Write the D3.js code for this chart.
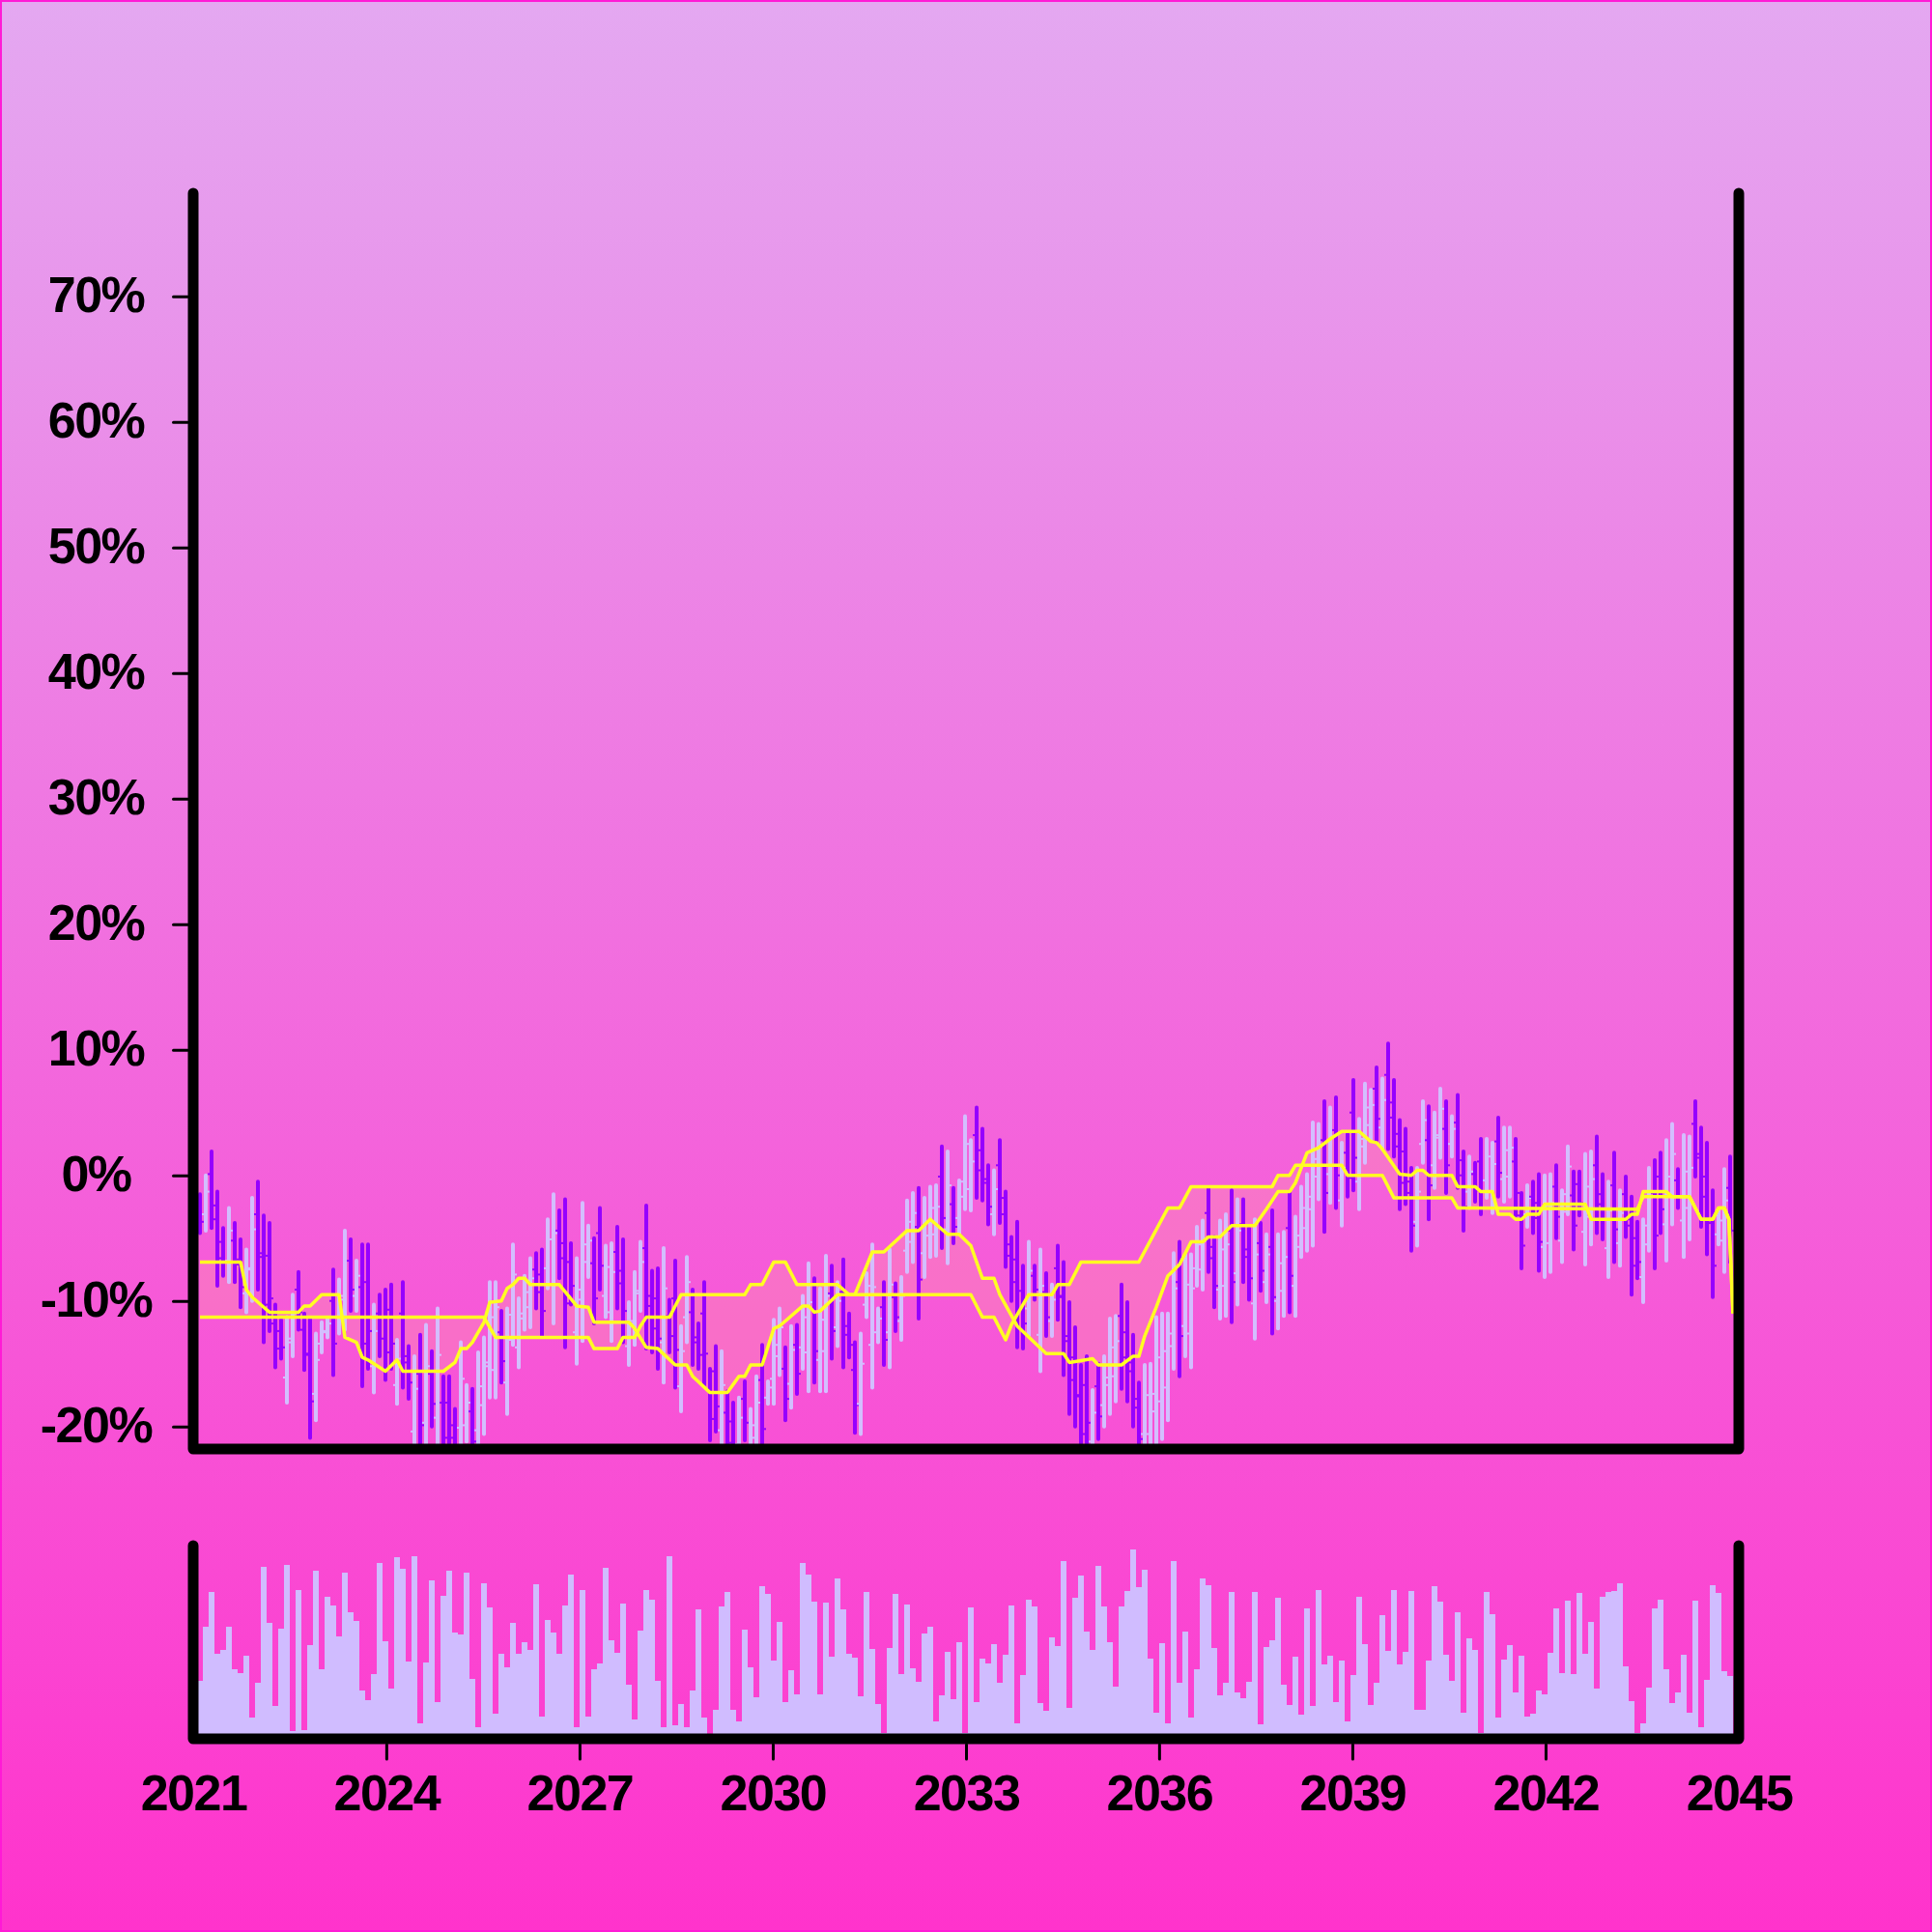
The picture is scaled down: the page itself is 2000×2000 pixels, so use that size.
<!DOCTYPE html>
<html><head><meta charset="utf-8">
<script src="https://cdn.jsdelivr.net/npm/d3@7"></script>
<style>html,body{margin:0;padding:0;background:#ff33cc}svg{display:block}</style>
</head><body>
<svg id="chart" width="2000" height="2000"></svg>
<script>
// ---------- data ----------
const tickYears = [2021,2024,2027,2030,2033,2036,2039,2042,2045];
const yTicks = [-20,-10,0,10,20,30,40,50,60,70];

const high = [
-1.5,0.0,1.9,-1.3,-4.2,-2.6,-3.8,-5.1,-5.9,-1.8,
-0.5,-3.2,-3.8,-10.3,-11.5,-11.3,-9.5,-7.7,-11.0,-11.4,
-12.6,-11.7,-11.4,-7.5,-8.3,-4.4,-5.1,-6.8,-5.5,-5.5,
-10.3,-9.5,-9.1,-8.7,-13.1,-8.5,-13.6,-14.4,-12.7,-11.9,
-14.0,-10.6,-16.0,-16.0,-18.6,-13.3,-16.7,-17.0,-14.1,-12.9,
-8.5,-8.5,-10.8,-10.6,-5.5,-9.8,-8.0,-6.6,-6.2,-5.9,
-3.5,-1.5,-2.8,-1.9,-5.4,-6.6,-2.2,-4.0,-5.0,-2.6,
-5.6,-5.4,-4.1,-5.1,-10.1,-7.7,-5.3,-2.4,-7.6,-7.4,
-5.8,-9.9,-6.8,-12.0,-6.5,-9.1,-11.8,-8.5,-15.4,-13.6,
-14.0,-17.2,-18.1,-17.7,-16.4,-18.6,-16.0,-13.5,-16.4,-11.5,
-10.6,-13.7,-12.0,-11.9,-9.6,-7.0,-8.2,-9.0,-6.4,-7.2,
-8.5,-6.7,-11.0,-13.3,-12.6,-7.8,-5.5,-10.6,-8.5,-5.9,
-8.6,-8.1,-2.0,-1.4,-1.0,-1.8,-0.9,-0.8,2.3,1.9,
-1.0,-0.4,4.7,2.8,5.4,3.7,0.8,0.4,2.8,-1.3,
-4.9,-3.7,-7.2,-5.3,-7.2,-5.9,-7.8,-8.7,-5.6,-6.9,
-10.1,-12.1,-15.1,-14.4,-17.1,-15.0,-14.4,-11.4,-11.2,-8.7,
-10.1,-12.7,-16.5,-15.1,-15.0,-11.3,-11.0,-11.0,-6.2,-5.3,
-6.3,-6.3,-4.1,-3.6,-1.0,-4.9,-3.6,-3.1,-1.2,-1.9,
-1.9,-4.2,-3.5,-3.8,-4.7,-2.8,-4.7,-4.5,-1.3,-3.3,
-0.9,0.1,4.2,4.1,5.9,5.4,6.2,2.6,3.3,7.6,
4.5,7.3,6.8,8.6,7.7,10.5,7.6,4.4,3.7,0.6,
0.6,5.9,5.5,5.0,6.9,5.9,4.7,6.4,1.9,1.5,
1.0,2.9,2.9,2.6,4.6,3.8,3.8,2.9,-1.4,-0.8,
-0.5,0.1,0.0,0.1,0.8,-1.2,2.3,0.3,0.3,1.7,
1.9,3.1,0.1,-0.5,1.8,-1.2,-0.1,-1.7,-3.7,-3.5,
0.6,1.2,1.8,2.8,4.1,0.5,3.2,3.1,5.9,3.8,
2.6,-1.2,-2.8,0.5,1.5];

const low = [
-4.6,-4.4,-4.2,-8.8,-8.0,-8.5,-8.5,-10.5,-10.9,-10.0,
-9.1,-13.3,-12.4,-15.3,-14.6,-18.1,-14.4,-12.3,-15.5,-20.9,
-19.5,-14.1,-12.9,-15.9,-12.6,-12.3,-10.8,-10.8,-16.8,-15.4,
-17.3,-14.4,-16.3,-15.4,-18.2,-16.9,-17.8,-23,-23,-23,
-20.0,-23,-23,-23,-23,-23,-21.2,-23,-23,-20.6,
-17.7,-17.7,-16.5,-19.0,-13.5,-15.3,-12.3,-12.1,-10.6,-12.8,
-9.0,-11.8,-8.2,-13.7,-10.3,-15.0,-13.2,-8.1,-11.8,-9.1,
-11.3,-13.2,-10.6,-13.3,-15.1,-13.5,-10.8,-13.8,-14.1,-15.4,
-16.5,-14.1,-16.9,-18.8,-13.3,-15.1,-15.4,-16.7,-21.1,-20.4,
-23,-23,-23,-23,-21.1,-23,-23,-23,-18.2,-18.2,
-15.9,-19.5,-18.5,-17.4,-15.4,-17.2,-16.5,-17.2,-17.2,-14.6,
-13.6,-15.3,-14.5,-20.5,-20.6,-11.3,-16.9,-13.3,-15.1,-15.3,
-12.4,-13.1,-7.7,-6.9,-11.4,-8.1,-6.5,-6.4,-5.8,-7.0,
-5.4,-4.7,-2.7,-2.8,-1.8,-2.0,-3.9,-4.7,-3.8,-7.3,
-10.0,-13.7,-13.8,-12.8,-9.9,-15.6,-12.8,-12.8,-11.5,-15.9,
-19,-20,-23,-22,-23,-21,-20,-19,-18,-17,
-18,-20,-23,-23,-23,-22,-21,-19.5,-15.4,-16.0,
-14.4,-15.3,-8.8,-9.1,-7.7,-10.5,-11.4,-11.2,-11.7,-10.3,
-8.5,-9.9,-13.0,-9.2,-10.1,-12.6,-12.2,-11.2,-10.9,-11.2,
-6.5,-6.0,-5.6,-1.9,-4.5,-2.2,-2.6,-4.0,-1.7,-1.2,
-2.7,1.0,2.8,2.8,2.1,2.1,1.5,-2.7,-2.3,-6.0,
-5.6,1.0,-3.5,-1.0,1.4,-1.4,1.5,-1.0,-4.4,-2.6,
-2.1,-3.1,-1.8,-3.0,-1.7,-2.1,-1.7,-3.2,-7.4,-4.1,
-4.6,-7.6,-8.1,-7.7,-5.0,-6.9,-3.1,-5.9,-3.2,-7.1,
-5.5,-4.6,-5.1,-8.1,-6.9,-7.2,-4.9,-9.5,-8.2,-10.1,
-6.0,-7.4,-4.6,-6.8,-3.9,-2.6,-6.5,-5.1,-0.1,-4.1,
-6.3,-9.7,-5.5,-7.7,-6.9];

const open = [
-2.4,-3.1,0.1,-3.5,-5.3,-6.8,-5.2,-6.7,-9.4,-7.5,
-3.1,-6.2,-6.4,-11.8,-12.4,-16.1,-13.0,-9.1,-12.3,-14.3,
-17.4,-13.4,-12.5,-10.0,-11.3,-9.9,-6.8,-9.6,-8.9,-8.5,
-15.2,-11.0,-11.3,-10.7,-16.7,-11.0,-14.9,-20.4,-15.8,-19.7,
-15.8,-19.3,-18.1,-18.1,-19.9,-20.1,-19.9,-18.8,-20.3,-18.3,
-14.9,-15.5,-12.5,-16.5,-11.1,-13.7,-11.0,-10.5,-7.5,-7.9,
-7.4,-8.7,-4.4,-5.4,-6.9,-12.5,-9.9,-6.9,-7.0,-4.6,
-9.6,-10.9,-6.1,-7.6,-13.6,-11.8,-9.2,-5.8,-9.6,-9.8,
-13.3,-11.2,-9.8,-16.8,-11.3,-10.9,-12.9,-11.0,-17.1,-15.6,
-20.3,-18.9,-19.6,-21.4,-17.8,-21.7,-20.9,-16.3,-17.7,-16.2,
-14.4,-15.4,-16.6,-13.5,-13.7,-14.1,-10.7,-14.7,-14.0,-9.4,
-12.1,-9.3,-12.0,-15.5,-18.2,-10.3,-13.5,-12.5,-10.5,-12.5,
-9.7,-11.6,-6.0,-5.3,-4.1,-6.2,-4.8,-4.7,-0.1,-4.3,
-2.3,-3.4,-0.5,-1.1,3.2,2.0,-0.6,-3.1,0.8,-3.1,
-6.4,-6.7,-9.2,-10.6,-8.0,-12.7,-9.3,-11.6,-7.4,-9.6,
-12.8,-14.5,-17.5,-16.7,-21.2,-16.8,-18.3,-16.7,-16.0,-11.2,
-12.5,-14.9,-18.5,-20.6,-20.6,-18.8,-18.0,-16.9,-12.6,-8.5,
-12.0,-12.6,-7.4,-7.5,-3.0,-6.6,-9.1,-8.8,-4.4,-7.8,
-3.9,-5.9,-10.2,-5.4,-8.5,-5.7,-10.0,-9.2,-4.2,-8.8,
-4.8,-4.2,-2.7,-0.1,2.8,0.1,3.6,-2.0,1.8,5.0,
-0.5,2.9,4.0,6.9,3.8,8.0,5.8,2.3,1.9,-1.4,
-3.7,2.5,2.8,0.8,3.0,3.7,2.5,4.2,0.0,-1.3,
0.1,1.1,-0.4,-1.3,2.7,-0.3,-0.1,1.1,-3.2,-3.1,
-1.7,-2.2,-5.7,-5.4,-0.9,-5.2,-1.5,-1.6,-0.7,-4.5,
-3.3,0.8,-1.5,-5.8,-0.8,-5.4,-1.5,-4.0,-5.0,-8.1,
-4.0,-1.4,-0.1,-3.9,-1.5,-0.4,-3.6,-2.6,4.1,1.4,
-0.1,-3.8,-4.7,-5.2,-1.0];

const close = [
-3.7,-1.3,-2.4,-6.6,-6.9,-4.4,-7.1,-8.9,-7.4,-4.3,
-6.5,-10.3,-9.8,-13.8,-13.7,-13.3,-11.0,-10.9,-14.2,-18.0,
-14.7,-12.4,-11.8,-13.4,-9.6,-6.8,-9.1,-8.0,-13.4,-12.4,
-12.4,-13.0,-14.1,-13.4,-14.6,-14.4,-16.5,-17.0,-19.9,-15.2,
-18.2,-14.3,-20.9,-20.9,-21.7,-16.2,-18.1,-21.2,-16.8,-15.2,
-11.3,-10.5,-14.8,-13.1,-7.9,-11.4,-9.3,-8.2,-9.3,-10.8,
-5.1,-4.6,-6.6,-10.2,-8.8,-9.1,-5.5,-5.2,-9.8,-7.2,
-7.3,-7.7,-8.6,-10.8,-11.6,-9.4,-6.9,-10.4,-12.2,-13.0,
-9.0,-12.8,-13.9,-14.0,-8.5,-13.3,-14.3,-14.2,-19.4,-18.4,
-16.7,-21.3,-21.5,-19.3,-19.7,-19.9,-18.1,-20.2,-16.9,-13.5,
-12.1,-17.8,-13.9,-15.8,-11.3,-10.1,-14.0,-11.5,-9.6,-12.4,
-10.0,-12.7,-13.5,-18.3,-15.0,-8.8,-8.9,-11.4,-13.1,-8.7,
-11.3,-9.6,-3.7,-3.0,-8.3,-3.7,-2.6,-2.5,-3.4,-0.8,
-4.1,-1.7,2.5,1.1,0.4,-0.3,-2.5,-1.1,-1.8,-5.5,
-8.5,-10.7,-11.8,-7.6,-9.1,-8.8,-11.3,-9.9,-9.7,-13.2,
-16.3,-17.6,-20.6,-19.7,-18.9,-19.2,-16.1,-13.7,-13.2,-14.5,
-15.6,-17.8,-21.0,-17.5,-17.4,-14.5,-14.0,-13.6,-9.0,-12.8,
-8.7,-9.0,-5.5,-5.2,-5.7,-8.8,-5.9,-5.5,-8.5,-4.4,
-6.5,-8.2,-6.3,-7.6,-6.3,-9.7,-7.0,-6.5,-8.0,-5.7,
-2.6,-1.7,1.3,2.3,-1.4,3.1,0.0,0.6,-0.2,1.4,
2.3,5.4,5.6,4.5,6.0,4.6,3.3,-0.6,-0.5,-4.0,
-1.3,4.4,-0.8,3.2,5.3,0.8,3.7,1.2,-2.5,0.3,
-1.2,-1.3,1.5,0.9,0.2,2.0,2.2,-1.4,-5.6,-1.8,
-3.4,-5.3,-2.4,-2.2,-3.3,-2.9,0.7,-4.0,-2.2,-0.9,
-0.3,-2.3,-3.5,-2.8,-4.3,-3.0,-3.5,-7.2,-6.9,-5.5,
-1.4,-4.8,-2.7,-0.1,1.7,-1.7,0.3,0.6,1.7,-1.7,
-3.6,-7.2,-3.6,-2.0,-4.4];

const volume = [
30,58,76,44,46,58,36,34,43,11,
29,89,60,17,57,90,4,77,4.5,48.5,
87,36,73.5,69,53,86,65.5,61,25,20,
33.5,91,50.5,26,94,88,40,94.5,8,39.5,
82,19,74,87,55,54,86,31,6,80.5,
68,13,44,37,60,44,50,46,80,11.5,
61.5,55,44,69,85,6,77,11.5,36,39,
88.5,51,44.5,70,28,10,56,77,72,30,
6,94.5,7,18,6,25,67,11,0,15,
68.5,76,15,9,56.5,37,21.3,78.8,75,40.5,
60.3,19,35.5,23,90.8,85,70.8,23,70.5,42.5,
83,67,44,42.2,22.2,75.8,46.5,18,3,47,
75,33.3,69.3,36.7,29.3,54.5,58.2,9,22.3,45,
20.5,49.8,3,67.8,18.8,41.3,39,48.8,29.2,43.3,
69,8,32.8,72.2,68.5,18.7,14.5,52.5,48,92,
16,72.8,84.3,55.5,45.8,89.5,68.5,49.8,27.2,68.5,
76.5,98,78.7,87.5,41.5,13.3,49.3,7.8,92,28.8,
55.3,11,36.2,82.8,79.3,47,22.7,28.8,75.8,23.8,
21.2,29.5,75.8,7.7,47.5,50.8,72.8,27.8,17.3,42.5,
12.3,67.3,17,77,38.5,42.8,18.8,40.5,9,33.2,
73.3,49,17.5,28.8,64,45.3,77.2,38.3,45,76.5,
15,15,40.7,78.8,71,43.7,30.2,65.3,13.7,52.2,
46,3,75.8,64.5,11,41,48.3,24.2,43,11.3,
12.8,25,22.8,44.3,67.7,34,71.5,33.7,75.3,44.2,
60.7,26.2,73.5,75.8,76.5,80.7,37.3,19.7,3,8,
26.3,67.7,71.8,36.2,18.5,23.8,43.3,13.7,71.5,6,
30.7,79.7,75.3,34.8,32.3];

// two yellow indicator lines: [bar index, value %] at their vertices
const lineA = [[0,-6.9],[7,-6.9],[8,-9.1],[9,-9.7],[11,-10.5],[12,-10.9],[17,-10.9],[18,-10.4],[19,-10.4],[21,-9.5],[24,-9.5],[25,-12.9],[27,-13.3],[28,-14.5],[29,-14.7],[32,-15.6],[34,-14.7],[35,-15.6],[42,-15.6],[44,-14.9],[45,-13.8],[46,-13.8],[47,-13.3],[49,-11.7],[50,-10.1],[52,-10.0],[53,-9.0],[54,-8.7],[55,-8.2],[56,-8.2],[57,-8.7],[62,-8.7],[65,-10.4],[67,-10.5],[68,-11.7],[74,-11.7],[75,-12.2],[77,-13.7],[79,-13.8],[82,-15.1],[84,-15.1],[85,-16.0],[88,-17.3],[91,-17.3],[93,-16.0],[94,-16.0],[95,-15.1],[97,-15.1],[99,-12.2],[100,-12.0],[104,-10.4],[105,-10.4],[106,-10.9],[107,-10.8],[110,-9.5],[113,-9.5],[116,-6.1],[118,-6.1],[122,-4.4],[124,-4.4],[126,-3.5],[129,-4.7],[131,-4.7],[133,-5.6],[135,-8.2],[137,-8.2],[138,-9.5],[141,-12.0],[146,-14.2],[149,-14.2],[150,-14.9],[154,-14.6],[155,-15.1],[159,-15.1],[161,-14.4],[162,-14.4],[163,-12.8],[165,-10.5],[167,-8.0],[169,-7.1],[171,-5.3],[173,-5.3],[174,-4.9],[176,-4.9],[178,-4.0],[182,-4.0],[184,-2.7],[186,-1.3],[188,-1.3],[189,-0.6],[191,1.8],[193,2.2],[195,2.9],[197,3.5],[200,3.5],[202,2.7],[203,2.6],[204,2.1],[207,0.1],[209,0.0],[210,0.4],[211,0.4],[212,0.0],[216,0.0],[217,-0.9],[220,-0.9],[221,-1.3],[223,-1.3],[224,-3.1],[226,-3.1],[227,-3.5],[228,-3.5],[229,-3.1],[231,-3.1],[232,-2.3],[239,-2.3],[240,-3.5],[246,-3.5],[247,-3.1],[248,-3.1],[249,-1.3],[253,-1.3],[254,-1.7],[257,-1.7],[259,-3.5],[261,-3.5],[262,-2.6],[263,-2.6],[263.8,-3.5],[264.5,-11]];

const lineB = [[0,-11.3],[49,-11.3],[51,-12.9],[67,-12.9],[68,-13.8],[72,-13.8],[73,-12.9],[75,-12.9],[76,-12.0],[77,-11.3],[81,-11.3],[83,-9.5],[94,-9.5],[95,-8.7],[97,-8.7],[99,-6.9],[101,-6.9],[103,-8.7],[110,-8.7],[112,-9.5],[133,-9.5],[135,-11.3],[137,-11.3],[139,-13.1],[140,-11.9],[143,-9.5],[147,-9.5],[148,-8.7],[150,-8.7],[152,-6.9],[162,-6.9],[167,-2.6],[169,-2.6],[171,-0.9],[185,-0.9],[186,0.0],[188,0.0],[189,0.8],[197,0.8],[198,0.0],[204,0.0],[206,-1.8],[216,-1.8],[217,-2.6],[248,-2.7],[249,-1.7],[257,-1.7],[259,-3.5],[261,-3.5],[262,-2.6],[263,-2.6],[263.8,-3.5],[264.5,-11]];

// ---------- drawing ----------
const N = high.length;
const FONT = "'Liberation Sans', Arial, Helvetica, sans-serif";
const PURPLE = "#9600ff", LAVENDER = "#d3beff", VOLCOL = "#d0bcff", YELLOW = "#ffff22";

const svg = d3.select("#chart");
const defs = svg.append("defs");
const grad = defs.append("linearGradient").attr("id","bg").attr("x1",0).attr("y1",0).attr("x2",0).attr("y2",1);
grad.append("stop").attr("offset","0%").attr("stop-color","#e4a8f1");
grad.append("stop").attr("offset","100%").attr("stop-color","#ff33cc");
defs.append("clipPath").attr("id","clipMain").append("rect").attr("x",200).attr("y",0).attr("width",1600).attr("height",1500);
defs.append("clipPath").attr("id","clipVol").append("rect").attr("x",200).attr("y",1590).attr("width",1600).attr("height",210);

svg.append("rect").attr("width",2000).attr("height",2000).attr("fill","url(#bg)");
svg.append("rect").attr("x",1).attr("y",1).attr("width",1998).attr("height",1998)
  .attr("fill","none").attr("stroke","#ff1ad6").attr("stroke-width",2);

const x = d3.scaleBand().domain(d3.range(N)).range([204,1794]).padding(0);
const xi = d3.scaleLinear().domain([-0.5, N-0.5]).range([204,1794]);
const y = d3.scaleLinear().domain([-20,70]).range([1476.7,306.7]);
const yv = d3.scaleLinear().domain([0,100]).range([1800,1600]);
const xt = d3.scaleTime().domain([new Date(2021,0,1), new Date(2045,0,1)]).range([200,1800]);
const cx = i => x(i) + x.bandwidth()/2;

// main panel
const gMain = svg.append("g").attr("clip-path","url(#clipMain)");
const ptsA = lineA.map(d => [xi(d[0]), y(d[1])]);
const ptsB = lineB.map(d => [xi(d[0]), y(d[1])]);
gMain.append("path")
  .attr("d", d3.line()(ptsA.concat(ptsB.slice().reverse())) + "Z")
  .attr("fill","#ffa0a8").attr("fill-opacity",0.32).attr("stroke","none");

const colorOf = i => close[i] >= open[i] ? LAVENDER : PURPLE;
const bars = gMain.append("g").selectAll("g").data(d3.range(N)).join("g");
bars.append("line")
  .attr("x1", cx).attr("x2", cx)
  .attr("y1", i => y(high[i])).attr("y2", i => y(low[i]))
  .attr("stroke", colorOf).attr("stroke-width",4).attr("stroke-linecap","round");
bars.append("line")
  .attr("x1", i => cx(i)-4).attr("x2", cx)
  .attr("y1", i => y(open[i])).attr("y2", i => y(open[i]))
  .attr("stroke", colorOf).attr("stroke-width",2);
bars.append("line")
  .attr("x1", cx).attr("x2", i => cx(i)+4)
  .attr("y1", i => y(close[i])).attr("y2", i => y(close[i]))
  .attr("stroke", colorOf).attr("stroke-width",2);

const lineGen = d3.line().x(d => xi(d[0])).y(d => y(d[1]));
[lineA, lineB].forEach(L => {
  gMain.append("path").attr("d", lineGen(L)).attr("fill","none")
    .attr("stroke",YELLOW).attr("stroke-width",3.5).attr("stroke-linejoin","round");
});

// volume panel
svg.append("g").attr("clip-path","url(#clipVol)")
  .selectAll("rect").data(d3.range(N)).join("rect")
  .attr("x", i => x(i)).attr("width", x.bandwidth())
  .attr("y", i => yv(volume[i])).attr("height", i => yv(0) - yv(volume[i]))
  .attr("fill", VOLCOL).attr("shape-rendering","crispEdges");

// frames
svg.append("path").attr("d","M200,200V1500H1800V200").attr("fill","none")
  .attr("stroke","#000").attr("stroke-width",11).attr("stroke-linecap","round").attr("stroke-linejoin","round");
svg.append("path").attr("d","M200,1600V1800H1800V1600").attr("fill","none")
  .attr("stroke","#000").attr("stroke-width",11).attr("stroke-linecap","round").attr("stroke-linejoin","round");

// y axis
const gy = svg.append("g").attr("transform","translate(194.5,0)")
  .call(d3.axisLeft(y).tickValues(yTicks).tickSize(15).tickPadding(0).tickFormat(d => d + "%"));
gy.attr("font-size",null).attr("font-family",null);
gy.select(".domain").remove();
gy.selectAll(".tick line").attr("stroke","#000").attr("stroke-width",3).attr("stroke-linecap","round");
gy.selectAll(".tick text").attr("x",-95).attr("dy",null).attr("y",16)
  .attr("text-anchor","middle").attr("fill","#000")
  .style("font-family",FONT).style("font-weight","700").style("font-size","52px").style("letter-spacing","-1.5px");

// x axis
const gx = svg.append("g").attr("transform","translate(0,1806)")
  .call(d3.axisBottom(xt).tickValues(tickYears.map(yr => new Date(yr,0,1))).tickSize(15).tickFormat(d3.timeFormat("%Y")));
gx.attr("font-size",null).attr("font-family",null);
gx.select(".domain").remove();
gx.selectAll(".tick line").attr("stroke","#000").attr("stroke-width",3).attr("stroke-linecap","round")
  .attr("display",(d,i,n) => (i === 0 || i === n.length-1) ? "none" : null);
gx.selectAll(".tick text").attr("dy",null).attr("y",68).attr("fill","#000")
  .style("font-family",FONT).style("font-weight","700").style("font-size","52px").style("letter-spacing","-1.5px");
</script>
</body></html>
